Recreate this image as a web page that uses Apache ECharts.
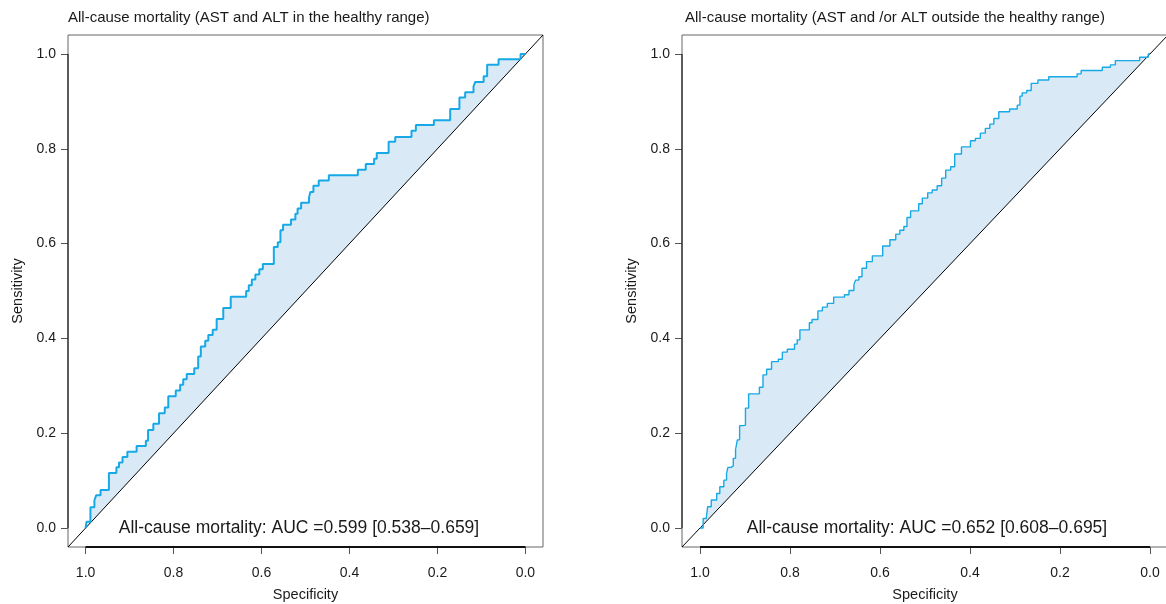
<!DOCTYPE html>
<html>
<head>
<meta charset="utf-8">
<script src="https://cdn.jsdelivr.net/npm/echarts@6/dist/echarts.min.js"></script>
<style>
html,body{margin:0;padding:0;background:#fff;}
#chart{width:1166px;height:604px;}
</style>
</head>
<body>
<div id="chart"></div>
<script>
// ---- data ----
const tickValues = [0, 0.2, 0.4, 0.6, 0.8, 1.0];
const titles = ['All-cause mortality (AST and ALT in the healthy range)',
                'All-cause mortality (AST and /or ALT outside the healthy range)'];
const aucLabels = ['All-cause mortality: AUC =0.599 [0.538\u20130.659]',
                   'All-cause mortality: AUC =0.652 [0.608\u20130.695]'];

const leftSpec = [1.0,0.998,0.989,0.980,0.976,0.966,0.947,0.930,0.924,0.916,0.905,0.884,0.863,0.858,0.846,0.833,0.820,0.812,0.795,0.785,0.778,0.770,0.753,0.744,0.738,0.728,0.721,0.711,0.702,0.687,0.670,0.635,0.629,0.622,0.614,0.605,0.597,0.572,0.563,0.557,0.551,0.533,0.523,0.518,0.510,0.492,0.489,0.482,0.470,0.447,0.381,0.363,0.344,0.338,0.311,0.296,0.259,0.249,0.208,0.171,0.150,0.137,0.118,0.114,0.095,0.087,0.061,0.011,0.0];
const leftSens = [0.0,0.013,0.044,0.058,0.069,0.080,0.116,0.128,0.138,0.150,0.161,0.173,0.184,0.207,0.220,0.242,0.254,0.278,0.290,0.302,0.314,0.325,0.337,0.362,0.383,0.395,0.407,0.418,0.441,0.464,0.488,0.500,0.512,0.524,0.535,0.546,0.557,0.593,0.603,0.628,0.640,0.651,0.663,0.674,0.686,0.697,0.709,0.722,0.733,0.744,0.756,0.768,0.779,0.791,0.815,0.825,0.838,0.850,0.860,0.884,0.908,0.919,0.931,0.941,0.953,0.977,0.989,1.0,1.0];

const rightSpec = [1.0,0.993,0.986,0.983,0.975,0.963,0.956,0.947,0.941,0.938,0.931,0.926,0.921,0.917,0.912,0.904,0.899,0.892,0.868,0.860,0.852,0.841,0.826,0.817,0.806,0.790,0.784,0.778,0.757,0.751,0.738,0.728,0.717,0.703,0.679,0.669,0.658,0.654,0.647,0.640,0.630,0.617,0.594,0.578,0.565,0.556,0.547,0.540,0.532,0.514,0.506,0.494,0.484,0.473,0.463,0.454,0.443,0.434,0.419,0.399,0.388,0.377,0.366,0.356,0.347,0.336,0.312,0.295,0.289,0.284,0.274,0.264,0.249,0.225,0.162,0.153,0.106,0.088,0.077,0.023,0.004,0.0];
const rightSens = [0.0,0.020,0.024,0.045,0.059,0.073,0.087,0.101,0.115,0.128,0.131,0.147,0.165,0.186,0.216,0.217,0.253,0.283,0.297,0.323,0.335,0.351,0.356,0.371,0.377,0.388,0.397,0.418,0.433,0.440,0.458,0.466,0.474,0.487,0.492,0.501,0.513,0.523,0.530,0.548,0.562,0.574,0.595,0.608,0.620,0.628,0.636,0.655,0.669,0.684,0.696,0.707,0.713,0.722,0.738,0.755,0.762,0.789,0.804,0.817,0.822,0.833,0.843,0.852,0.864,0.878,0.884,0.892,0.911,0.918,0.923,0.938,0.945,0.952,0.958,0.965,0.972,0.977,0.986,0.993,1.0,1.0];

// ---- styles ----
const AX_MIN = -0.04, AX_MAX = 1.04;
const LINE_COLOR = '#17A9E6';
const FILL_COLOR = '#D9EAF6';
const TEXT_COLOR = '#1a1a1a';
const FONT = '"Liberation Sans", Arial, sans-serif';

function pairs(a, b) { return a.map((v, i) => [v, b[i]]); }

const grids = [
  {left: 68, top: 35, width: 475, height: 512},
  {left: 682, top: 35, width: 486, height: 512}
];

function makeX(i) {
  return {
    gridIndex: i, type: 'value', inverse: true, min: AX_MIN, max: AX_MAX,
    axisLine: {show: false, onZero: false},
    splitLine: {show: false},
    axisTick: {show: true, inside: false, length: 7, customValues: tickValues,
               lineStyle: {color: '#555', width: 1}},
    axisLabel: {customValues: tickValues, formatter: v => v.toFixed(1),
                fontSize: 14, color: TEXT_COLOR, margin: 19, fontFamily: FONT},
    name: 'Specificity', nameLocation: 'middle', nameGap: 40,
    nameTextStyle: {fontSize: 14.5, color: TEXT_COLOR, fontFamily: FONT}
  };
}
function makeY(i) {
  return {
    gridIndex: i, type: 'value', min: AX_MIN, max: AX_MAX,
    axisLine: {show: false, onZero: false},
    splitLine: {show: false},
    axisTick: {show: true, inside: false, length: 7, customValues: tickValues,
               lineStyle: {color: '#555', width: 1}},
    axisLabel: {customValues: tickValues, formatter: v => v.toFixed(1),
                fontSize: 14, color: TEXT_COLOR, margin: 12, fontFamily: FONT},
    name: 'Sensitivity', nameLocation: 'middle', nameGap: 43, nameRotate: 90,
    nameTextStyle: {fontSize: 14.5, color: TEXT_COLOR, fontFamily: FONT}
  };
}

function makeSeries(i, spec, sens, lw) {
  const roc = pairs(spec, sens);
  const tMin = Math.min(...tickValues), tMax = Math.max(...tickValues);
  return [
    { // filled region between ROC curve and the chance diagonal
      type: 'custom', coordinateSystem: 'cartesian2d', xAxisIndex: i, yAxisIndex: i,
      data: [[roc[0][0], roc[0][1]]], silent: true, z: 2,
      renderItem: function (params, api) {
        const pts = [];
        for (let k = 0; k < roc.length; k++) {
          if (k > 0) pts.push(api.coord([roc[k][0], roc[k - 1][1]]));
          pts.push(api.coord(roc[k]));
        }
        return {type: 'polygon', shape: {points: pts}, style: {fill: FILL_COLOR, stroke: null}};
      }
    },
    { // chance diagonal
      type: 'line', xAxisIndex: i, yAxisIndex: i, data: [[AX_MAX, AX_MIN], [AX_MIN, AX_MAX]],
      showSymbol: false, silent: true, lineStyle: {width: 1, color: '#000'}, z: 4
    },
    { // ROC curve
      type: 'line', xAxisIndex: i, yAxisIndex: i, step: 'end', data: roc,
      showSymbol: false, silent: true, lineStyle: {width: lw, color: LINE_COLOR}, z: 5
    },
    { // R-style x axis line from first to last tick
      type: 'line', xAxisIndex: i, yAxisIndex: i, data: [[tMax, AX_MIN], [tMin, AX_MIN]],
      showSymbol: false, silent: true, clip: false, lineStyle: {width: 2, color: '#111'}, z: 6
    },
    { // R-style y axis line
      type: 'line', xAxisIndex: i, yAxisIndex: i, data: [[AX_MAX, tMin], [AX_MAX, tMax]],
      showSymbol: false, silent: true, clip: false, lineStyle: {width: 1.2, color: '#222'}, z: 6
    }
  ];
}

const chart = echarts.init(document.getElementById('chart'), null, {renderer: 'canvas'});
chart.setOption({
  animation: false,
  backgroundColor: '#fff',
  grid: grids.map(g => Object.assign({show: true, borderColor: '#666', borderWidth: 1,
        backgroundColor: 'transparent', containLabel: false, outerBoundsMode: 'none'}, g)),
  xAxis: [makeX(0), makeX(1)],
  yAxis: [makeY(0), makeY(1)],
  series: [].concat(makeSeries(0, leftSpec, leftSens, 2), makeSeries(1, rightSpec, rightSens, 1.4)),
  graphic: [
    {type: 'text', left: 68, top: 10, z: 100, style: {text: titles[0], fontSize: 15, fill: TEXT_COLOR, fontFamily: FONT}},
    {type: 'text', left: 685, top: 10, z: 100, style: {text: titles[1], fontSize: 15, fill: TEXT_COLOR, fontFamily: FONT}},
    {type: 'text', x: 299, y: 528, z: 100, style: {text: aucLabels[0], fontSize: 17.5, fill: TEXT_COLOR, fontFamily: FONT, align: 'center', verticalAlign: 'middle'}},
    {type: 'text', x: 927, y: 528, z: 100, style: {text: aucLabels[1], fontSize: 17.5, fill: TEXT_COLOR, fontFamily: FONT, align: 'center', verticalAlign: 'middle'}}
  ]
});
</script>
</body>
</html>
